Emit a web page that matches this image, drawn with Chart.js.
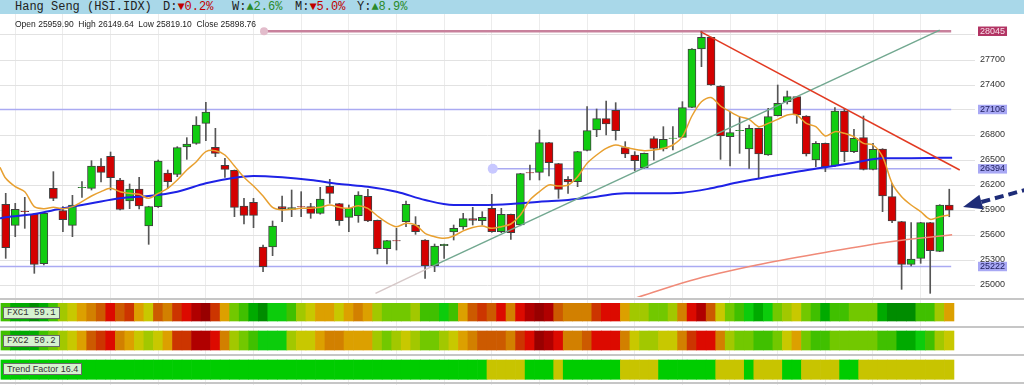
<!DOCTYPE html>
<html>
<head>
<meta charset="utf-8">
<script src="https://cdn.jsdelivr.net/npm/chart.js@4"></script>
<style>
  body { margin: 0; width: 1024px; height: 385px; overflow: hidden; background: #fff; position: relative;
         font-family: "Liberation Sans", Arial, sans-serif; }
  #hdr { position: absolute; left: 0; top: 0; width: 1024px; height: 14px; background: #a9d8e9;
         font-family: "Liberation Mono", monospace; font-size: 12px; line-height: 14px; color: #222; }
  #hdr span { position: absolute; top: 0; white-space: pre; }
  .dn { color: #c00000; }
  .up { color: #2a8a2a; }
  #ohlc { position: absolute; left: 15px; top: 19px; font-size: 8.5px; line-height: 10px; color: #222; white-space: pre; }
  #main { position: absolute; left: 0; top: 14px; }
  #panels { position: absolute; left: 0; top: 297px; }
  .tag { position: absolute; left: 3px; background: #d6f2cf; border: 1px solid #6a6a6a; font-size: 9px;
         line-height: 10px; padding: 0 3px; color: #333; white-space: pre; }
  .mono { font-family: "Liberation Mono", monospace; }
</style>
</head>
<body>
<div id="hdr">
  <span style="left:15px">Hang Seng (HSI.IDX)</span>
  <span style="left:163px">D:<b class="dn" style="font-weight:normal">▼0.2%</b></span>
  <span style="left:232px">W:<b class="up" style="font-weight:normal">▲2.6%</b></span>
  <span style="left:295px">M:<b class="dn" style="font-weight:normal">▼5.0%</b></span>
  <span style="left:357px">Y:<b class="up" style="font-weight:normal">▲8.9%</b></span>
</div>
<canvas id="main" width="1024" height="283"></canvas>
<canvas id="panels" width="1024" height="88"></canvas>
<div id="ohlc">Open 25959.90  High 26149.64  Low 25819.10  Close 25898.76</div>
<div class="tag mono" style="top:307px">FXC1 59.1</div>
<div class="tag mono" style="top:335px">FXC2 50.2</div>
<div class="tag" style="top:363px">Trend Factor 16.4</div>

<script>
// daily candles, oldest first
const opens = [
  25968, 25716, 25885, 25852, 25256, 26160, 25892, 25716, 26168, 26160,
  26428, 26544, 26260, 26008, 26152, 25708, 25940, 26344, 26328, 26656,
  26700, 26940, 26652, 26436, 26376, 25948, 25992, 25456, 25456, 25940,
  25908, 25940, 25940, 25860, 26184, 25976, 25812, 25832, 26064, 25776,
  25436, 25532, 25760, 25720, 25540, 25232, 25472, 25636, 25696, 25796,
  25772, 25920, 25640, 25848, 25720, 26348, 26352, 26708, 26456, 26268,
  26240, 26616, 26860, 26996, 27096, 26648, 26560, 26408, 26756, 26632,
  26760, 26772, 27132, 27832, 27972, 27388, 26780, 26852, 26632, 26880,
  26560, 27032, 27200, 27260, 27028, 26500, 26700, 26428, 27088, 26600,
  26768, 26388, 26632, 26060, 25760, 25248, 25320, 25748, 25404, 25959.90
];
const highs = [
  26100, 25980, 26052, 25860, 25870, 26360, 25940, 26076, 26240, 26492,
  26516, 26596, 26280, 26212, 26292, 25945, 26500, 26380, 26660, 26768,
  27020, 27192, 26880, 26520, 26380, 26040, 26040, 25480, 25768, 26068,
  26140, 26120, 25980, 26172, 26268, 25980, 25960, 26120, 26148, 25780,
  25536, 25680, 26008, 25820, 25545, 25492, 25492, 25720, 25860, 25932,
  25880, 26088, 25920, 25850, 26340, 26440, 26860, 26712, 26460, 26300,
  26604, 27140, 27112, 27208, 27188, 26720, 26600, 26584, 26780, 26900,
  26900, 27200, 27836, 28045, 27976, 27392, 27080, 27012, 26920, 26884,
  27120, 27400, 27328, 27264, 27032, 26720, 26704, 27128, 27120, 26868,
  27028, 26700, 26636, 26220, 25764, 25748, 25752, 25752, 25964, 26149.64
];
const lows = [
  25320, 25580, 25680, 25140, 25240, 26012, 25640, 25580, 26052, 26140,
  26236, 26140, 25900, 25916, 25912, 25488, 25930, 26160, 26300, 26508,
  26688, 26732, 26540, 26292, 25820, 25732, 25688, 25160, 25352, 25760,
  25820, 25820, 25800, 25850, 25980, 25716, 25640, 25752, 25760, 25372,
  25252, 25420, 25700, 25608, 25080, 25160, 25320, 25540, 25668, 25720,
  25720, 25632, 25628, 25548, 25710, 26260, 26260, 26308, 26040, 26100,
  26180, 26610, 26780, 26800, 26740, 26528, 26372, 26400, 26500, 26608,
  26620, 26768, 27128, 27620, 27395, 26508, 26428, 26580, 26400, 26288,
  26556, 27028, 27172, 26940, 26548, 26420, 26360, 26420, 26480, 26588,
  26380, 26380, 25880, 25748, 24948, 25228, 25260, 24900, 25400, 25819.10
];
const closes = [
  25448, 25908, 25880, 25248, 25860, 26040, 25784, 25960, 26172, 26428,
  26352, 26288, 25908, 26152, 25948, 25940, 26488, 26240, 26648, 26692,
  26920, 27076, 26580, 26388, 25932, 25836, 25836, 25220, 25708, 25916,
  25928, 25936, 25860, 26032, 26100, 25772, 25920, 26080, 25768, 25436,
  25532, 25528, 25968, 25640, 25232, 25468, 25488, 25680, 25796, 25776,
  25812, 25640, 25848, 25628, 26336, 26344, 26708, 26468, 26148, 26236,
  26600, 26852, 26996, 26932, 26852, 26572, 26492, 26580, 26640, 26748,
  26764, 27128, 27832, 27972, 27400, 26788, 26828, 26856, 26880, 26572,
  27020, 27180, 27260, 27040, 26572, 26700, 26420, 27088, 26600, 26760,
  26388, 26628, 26068, 25768, 25248, 25312, 25748, 25412, 25960, 25898.76
];

// short moving average (orange), one value per candle
const maFastLead = 26412;
const maFast = [
  26280, 26180, 26120, 25940, 25916, 25932, 25916, 25940, 26000, 26068,
  26120, 26160, 26120, 26100, 26088, 26040, 26100, 26160, 26260, 26380,
  26480, 26600, 26612, 26560, 26428, 26292, 26188, 26068, 25932, 25900,
  25908, 25920, 25920, 25932, 25960, 25932, 25920, 25952, 25920, 25828,
  25748, 25700, 25740, 25720, 25620, 25580, 25560, 25588, 25650, 25690,
  25708, 25680, 25700, 25732, 25840, 26020, 26120, 26200, 26188, 26200,
  26300, 26460, 26560, 26640, 26680, 26652, 26628, 26612, 26620, 26640,
  26680, 26780, 27028, 27200, 27250, 27148, 27080, 27020, 26988, 26900,
  26940, 26988, 27040, 27040, 26940, 26900, 26788, 26840, 26820, 26780,
  26700, 26680, 26540, 26220, 26060, 25960, 25880, 25788, 25820, 25840
];
// long moving average (blue): [candle index, price]
const maSlow = [
  [-0.6, 25800], [0, 25812], [3, 25852], [6, 25920], [9, 25980], [12, 26040], [15, 26068],
  [18, 26120], [21, 26220], [24, 26288], [26, 26308], [29, 26292], [32, 26260], [35, 26212],
  [38, 26180], [41, 26120], [44, 26020], [47, 25960], [50, 25960], [53, 25972], [56, 26000],
  [59, 26020], [62, 26060], [65, 26100], [68, 26100], [71, 26108], [74, 26160], [77, 26235],
  [80, 26300], [83, 26360], [86, 26412], [89, 26468], [92, 26520], [95, 26522], [99.3, 26528]
];
// 200-day average (salmon): [candle index, price]
const maLong = [[66, 24840], [71.8, 25052], [78.8, 25240], [85.8, 25388], [92.8, 25520], [99.3, 25602]];

// drawn trend lines: [candle index, price]
const supportFaint = [[38.8, 24900], [44.8, 25226]];
const supportLine = [[44.8, 25226], [98, 28058]];
const resistLine = [[72.9, 28040], [100.1, 26380]];

// marked price levels
const levelValues = [28045, 27106, 26394, 25222];
const levelStart = [27.1, -0.6, 51.1, -0.6];
const levelEnd = 99.2;

// price axis ticks
const yTicks = [25000, 25300, 25600, 25900, 26200, 26500, 26800, 27100, 27400, 27700, 28000];
const hiddenTicks = [27100, 28000];

// indicator strips, colour level per candle (0 = dark green ... 13 = dark red)
const fxc1 = [
  3, 1, 1, 0, 1, 3, 5, 6, 7, 8,
  9, 11, 9, 10, 7, 6, 9, 8, 10, 11,
  12, 13, 10, 7, 4, 3, 1, 0, 2, 2,
  3, 5, 6, 7, 7, 6, 7, 8, 7, 5,
  4, 4, 4, 5, 3, 3, 2, 3, 7, 9,
  10, 9, 11, 8, 11, 12, 13, 12, 9, 8,
  8, 8, 10, 11, 11, 7, 5, 5, 4, 4,
  5, 8, 11, 12, 9, 6, 4, 3, 2, 1,
  2, 4, 5, 6, 4, 3, 1, 3, 3, 4,
  4, 4, 1, 0, 0, 0, 3, 3, 5, 7
];
const fxc2 = [
  3, 1, 1, 1, 3, 4, 5, 6, 7, 9,
  10, 11, 8, 7, 6, 5, 6, 7, 10, 10,
  12, 12, 11, 8, 5, 4, 3, 2, 2, 2,
  5, 6, 6, 7, 8, 8, 7, 7, 7, 5,
  4, 5, 6, 5, 4, 4, 5, 6, 7, 8,
  9, 9, 9, 8, 10, 11, 13, 12, 11, 8,
  8, 9, 11, 11, 11, 8, 6, 5, 5, 6,
  6, 8, 10, 11, 11, 8, 5, 4, 4, 3,
  3, 4, 6, 7, 4, 3, 3, 4, 4, 4,
  4, 4, 3, 3, 1, 1, 2, 3, 5, 6
];
// trend factor: 0 = trending (green), 1 = not (yellow)
const trendState = [
  0, 0, 0, 0, 0, 0, 0, 0, 0, 0,
  0, 0, 0, 0, 0, 0, 0, 0, 0, 0,
  0, 0, 0, 0, 0, 0, 0, 0, 0, 0,
  0, 0, 0, 0, 0, 0, 0, 0, 0, 0,
  0, 0, 0, 0, 0, 0, 0, 0, 0, 0,
  0, 1, 1, 1, 1, 0, 0, 0, 1, 0,
  0, 0, 0, 0, 0, 1, 1, 1, 1, 0,
  0, 0, 0, 0, 0, 1, 1, 1, 0, 1,
  1, 1, 0, 0, 1, 1, 1, 1, 0, 0,
  1, 1, 1, 1, 1, 1, 1, 1, 1, 1
];

const heatPalette = ['#008c00', '#00aa00', '#0ccc0c', '#40c000', '#72c800', '#a2c800', '#c8c800',
  '#dca000', '#d28000', '#cc5a00', '#cc3500', '#dc0a00', '#b00000', '#980000'];
const trendPalette = ['#00cc00', '#c8c400'];

const X_MIN = -0.6;
const gridIdx = [];
for (let i = 1; i < closes.length; i += 5) gridIdx.push(i);

const pts = arr => arr.map(p => ({ x: p[0], y: p[1] }));
const idx = closes.map((_, i) => i);

function lineSet(data, color, width, extra) {
  return Object.assign({ type: 'line', data: data, borderColor: color, borderWidth: width,
    pointRadius: 0, fill: false }, extra || {});
}

const levelColors = ['#c8819c', '#aaaaf2', '#aaaaf2', '#aaaaf2'];
const levelSets = levelValues.map((v, k) => lineSet(
  [{ x: levelStart[k], y: v }, { x: levelEnd, y: v }], levelColors[k], k === 0 ? 2.5 : 1.5, { order: 6 }));

const arrowPlugin = {
  id: 'arrow',
  afterDraw(chart) {
    const ctx = chart.ctx;
    const last = closes.length - 1;
    const tx = chart.scales.x.getPixelForValue(last + 1.45);
    const ty = chart.scales.y.getPixelForValue(closes[last]) - 3;
    const dx = Math.cos(0.27), dy = -Math.sin(0.27);
    const bx = tx + 19 * dx, by = ty + 19 * dy;
    ctx.save();
    ctx.strokeStyle = '#1e2c78';
    ctx.fillStyle = '#1e2c78';
    ctx.lineWidth = 4;
    ctx.setLineDash([9, 5]);
    ctx.beginPath();
    ctx.moveTo(bx, by);
    ctx.lineTo(bx + 45 * dx, by + 45 * dy);
    ctx.stroke();
    ctx.setLineDash([]);
    ctx.beginPath();
    ctx.moveTo(tx, ty);
    ctx.lineTo(bx - 7.5 * dy, by + 7.5 * dx);
    ctx.lineTo(bx + 7.5 * dy, by - 7.5 * dx);
    ctx.closePath();
    ctx.fill();
    ctx.restore();
  }
};

new Chart(document.getElementById('main'), {
  type: 'bar',
  data: {
    datasets: [
      lineSet(pts(resistLine), '#e23a22', 1.5, { order: 0 }),
      lineSet(pts(supportLine), '#72a890', 1.5, { order: 0 }),
      lineSet(pts(supportFaint), '#d6c8c8', 1.5, { order: 0 }),
      lineSet([{ x: X_MIN, y: maFastLead }].concat(maFast.map((v, i) => ({ x: i, y: v }))),
        '#e8a030', 1.5, { order: 1, tension: 0.3 }),
      lineSet(pts(maSlow), '#1e22e6', 2, { order: 1, cubicInterpolationMode: 'monotone' }),
      lineSet(pts(maLong), '#f08a78', 1.5, { order: 1, cubicInterpolationMode: 'monotone' }),
      {
        type: 'bar', order: 3, grouped: false, barThickness: 8,
        data: idx.map(i => ({ x: i, y: [opens[i], closes[i]] })),
        backgroundColor: idx.map(i => closes[i] >= opens[i] ? '#10cc10' : '#d40000'),
        borderColor: '#404040', borderWidth: 1, borderSkipped: false
      },
      {
        type: 'bar', order: 4, grouped: false, barThickness: 1,
        data: idx.map(i => ({ x: i, y: [lows[i], highs[i]] })),
        backgroundColor: '#555555'
      },
      {
        type: 'scatter', order: 5,
        data: [{ x: levelStart[0], y: levelValues[0] }, { x: levelStart[2], y: levelValues[2] }],
        pointRadius: [4, 5], pointBackgroundColor: ['#e2bccb', '#c8c8ff'], pointBorderWidth: 0
      }
    ].concat(levelSets)
  },
  options: {
    responsive: false, animation: false, events: [],
    layout: { padding: 0, autoPadding: false },
    plugins: { legend: { display: false }, tooltip: { enabled: false } },
    scales: {
      x: {
        type: 'linear', min: X_MIN, max: 101.7, offset: false,
        afterBuildTicks: s => { s.ticks = gridIdx.map(v => ({ value: v })); },
        ticks: { display: false },
        grid: { color: '#ececec', drawTicks: false, offset: false },
        border: { display: false }
      },
      y: {
        position: 'right', min: 24856, max: 28252, beginAtZero: false,
        afterBuildTicks: s => {
          s.ticks = yTicks.concat(levelValues).sort((a, b) => a - b).map(v => ({ value: v }));
        },
        afterFit: s => { s.width = 49; s.paddingTop = 0; s.paddingBottom = 0; },
        ticks: {
          autoSkip: false, padding: 5,
          font: { family: 'Liberation Sans', size: 9, lineHeight: 0.05 },
          callback: v => hiddenTicks.includes(v) ? '' : String(v),
          color: c => c.tick.value === 28045 ? '#f6dde8' : (levelValues.includes(c.tick.value) ? '#1c1c5c' : '#333'),
          showLabelBackdrop: c => levelValues.includes(c.tick.value),
          backdropColor: c => c.tick.value === 28045 ? '#b23463' : '#a8a8f4',
          backdropPadding: { top: 4.5, bottom: 4.5, left: 2, right: 2 }
        },
        grid: {
          color: c => (c.tick && levelValues.includes(c.tick.value)) ? 'rgba(0,0,0,0)' : '#e2e2e2',
          drawTicks: false
        },
        border: { display: false }
      }
    }
  },
  plugins: [arrowPlugin]
});

// indicator strips below the price chart
const bands = [[6.3, 24], [34, 53], [63, 82.3]];
function strip(levels, palette, band) {
  return {
    data: levels.map((_, i) => ({ x: i, y: band })),
    backgroundColor: levels.map(l => palette[l]),
    borderWidth: 0, grouped: false, barPercentage: 1, categoryPercentage: 1
  };
}

new Chart(document.getElementById('panels'), {
  type: 'bar',
  data: {
    datasets: [
      strip(fxc1, heatPalette, bands[0]),
      strip(fxc2, heatPalette, bands[1]),
      strip(trendState, trendPalette, bands[2])
    ]
  },
  options: {
    responsive: false, animation: false, events: [],
    layout: { padding: 0, autoPadding: false },
    plugins: { legend: { display: false }, tooltip: { enabled: false } },
    scales: {
      x: {
        type: 'linear', min: X_MIN, max: 106.85, offset: false,
        afterBuildTicks: s => { s.ticks = gridIdx.map(v => ({ value: v })); },
        ticks: { display: false },
        grid: { color: '#ececec', drawTicks: false, offset: false },
        border: { display: false }
      },
      y: {
        min: 0, max: 88, reverse: true, beginAtZero: false,
        afterBuildTicks: s => { s.ticks = [1.5, 29.5, 58, 86].map(v => ({ value: v })); },
        afterFit: s => { s.width = 0; s.paddingTop = 0; s.paddingBottom = 0; },
        ticks: { display: false },
        grid: { color: '#c6c6c6', lineWidth: 2, drawTicks: false },
        border: { display: false }
      }
    }
  }
});
</script>
</body>
</html>
